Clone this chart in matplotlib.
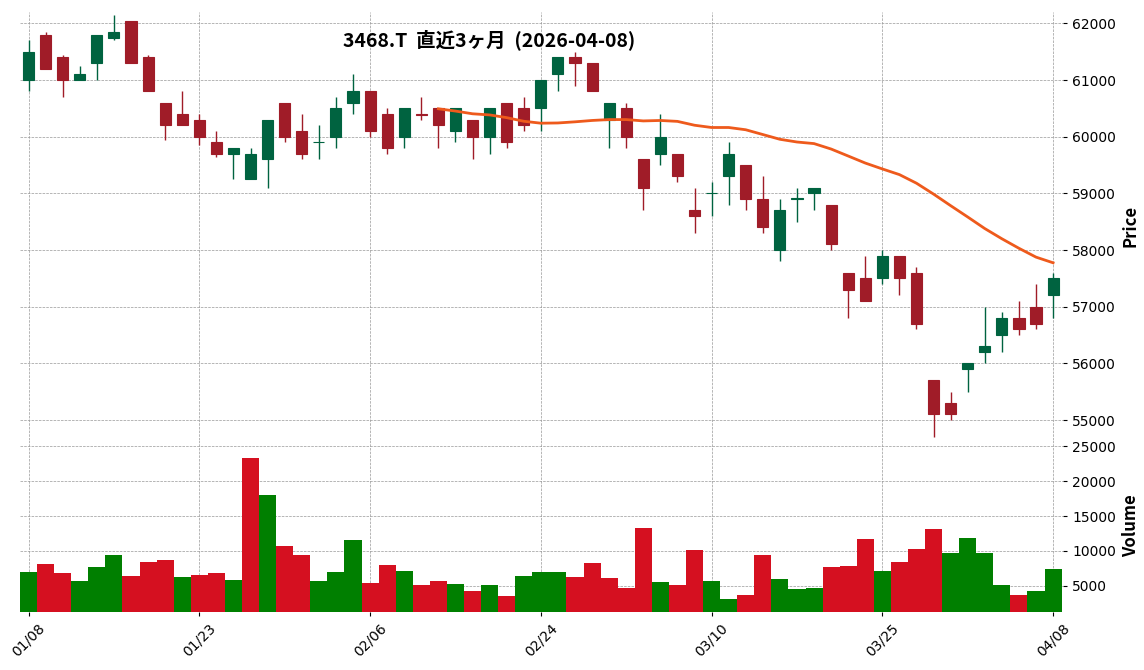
import matplotlib
matplotlib.use("Agg")
import matplotlib.pyplot as plt
import numpy as np
import pandas as pd

dates = pd.bdate_range("2026-01-08", periods=61)
tick_labels = ["01/08", "01/23", "02/06", "02/24", "03/10", "03/25", "04/08"]
tick_idx = [0, 10, 20, 30, 40, 50, 60]

opens = [61000,61800,61400,61000,61300,61750,62050,61400,60600,60400,60300,59900,59700,59250,59600,60600,60100,59900,60000,60600,
         60800,60400,60000,60400,60500,60100,60300,60000,60600,60500,60500,61100,61400,61300,60300,60500,59600,59700,59700,58700,
         59000,59300,59500,58900,58000,58900,59000,58800,57600,57500,57500,57900,57600,55700,55300,55900,56200,56500,56800,57000,57200]
closes = [61500,61200,61000,61100,61800,61850,61300,60800,60200,60200,60000,59700,59800,59700,60300,60000,59700,59900,60500,60800,
          60100,59800,60500,60380,60200,60500,60000,60500,59900,60200,61000,61400,61300,60800,60600,60000,59100,60000,59300,58600,
          59000,59700,58900,58400,58700,58900,59100,58100,57300,57100,57900,57500,56700,55100,55100,56000,56300,56800,56600,56700,57500]
highs = [61700,61850,61450,61250,61800,62150,62050,61450,60600,60800,60400,60100,59800,59800,60300,60600,60400,60200,60700,61100,
         60800,60500,60500,60700,60500,60500,60300,60500,60600,60700,61000,61400,61500,61300,60600,60600,59600,60400,59700,59100,
         59200,59900,59500,59300,58900,59100,59100,58800,57600,57900,58000,57900,57700,55700,55500,56000,57000,56900,57100,57400,57600]
lows = [60800,61200,60700,61000,61000,61700,61300,60800,59950,60200,59850,59650,59250,59250,59100,59900,59600,59600,59800,60400,
        60000,59700,59800,60300,59800,59900,59600,59700,59800,60100,60100,60800,60900,60800,59800,59800,58700,59500,59200,58300,
        58600,58800,58700,58300,57800,58500,58700,58000,56800,57100,57400,57200,56600,54700,55000,55500,56000,56200,56500,56600,56800]
volumes = [7000,8100,6900,5700,7700,9400,6400,8400,8700,6300,6600,6900,5900,23300,18000,10700,9400,5700,7000,11600,
           5400,8000,7100,5100,5700,5300,4300,5100,3600,6400,7000,7000,6300,8300,6100,4700,13300,5600,5100,10100,
           5700,3100,3700,9400,6000,4600,4700,7700,7900,11700,7100,8400,10300,13100,9700,11900,9700,5100,3700,4300,7400]

o = np.array(opens); c = np.array(closes); h = np.array(highs); l = np.array(lows); v = np.array(volumes)
x = np.arange(len(o))
ma = pd.Series(c).rolling(25).mean()

fig = plt.figure(figsize=(11.44, 6.7), dpi=100)
axp = fig.add_axes([0.0175, 0.343, 0.912, 0.639])
axv = fig.add_axes([0.0175, 0.087, 0.912, 0.256], sharex=axp)

up_c, dn_c = "#006340", "#a01c28"
for i in x:
    col = up_c if c[i] >= o[i] else dn_c
    axp.vlines(i, l[i], h[i], color=col, lw=1, zorder=2)
    bot = min(o[i], c[i]); hgt = max(abs(c[i] - o[i]), 15)
    axp.bar(i, hgt, bottom=bot, width=0.65, color=col, edgecolor=col, lw=0.8, zorder=3)
axp.plot(x, ma, color="#ee5a1c", lw=2, zorder=4)

vcol = ["#007f00"] + ["#007f00" if c[i] >= c[i-1] else "#d51020" for i in range(1, len(c))]
axv.bar(x, v, width=1.0, color=vcol)

for ax in (axp, axv):
    ax.grid(True, ls="--", lw=0.5, color="#999999")
    ax.set_axisbelow(True)
    ax.yaxis.tick_right(); ax.yaxis.set_label_position("right")
    for s in ax.spines.values():
        s.set_visible(False)
    ax.tick_params(labelsize=10, length=3)

axp.set_xlim(-0.5, 60.6)
axp.set_ylim(54646, 62200)
axp.set_yticks(range(55000, 62001, 1000))
axp.tick_params(labelbottom=False)
axv.set_ylim(1290, 25860)
axv.set_yticks(range(5000, 25001, 5000))
axv.set_xticks(tick_idx)
axv.set_xticklabels(tick_labels, rotation=45)

jp = ["Noto Sans CJK JP", "DejaVu Sans"]
axp.set_ylabel("Price", family=jp, fontweight="bold", fontsize=12)
axv.set_ylabel("Volume", family=jp, fontweight="bold", fontsize=12)
axp.text(0.45, 0.935, "3468.T  直近3ヶ月  (2026-04-08)", transform=axp.transAxes,
         ha="center", va="center", family=jp, fontweight="bold", fontsize=14)

fig.savefig("out.png", dpi=100)
